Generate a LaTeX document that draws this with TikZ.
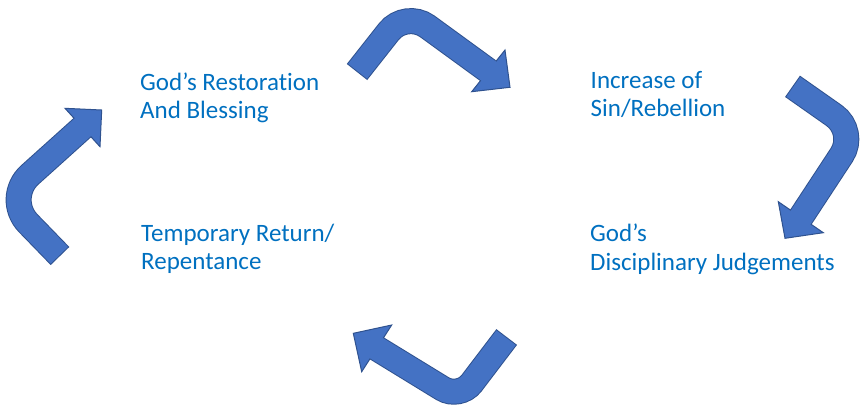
\documentclass[tikz,border=0pt]{standalone}
\usepackage{fontspec}
\setmainfont{Carlito}[Ligatures={NoCommon}]
\usetikzlibrary{calc}
\definecolor{arrowfill}{HTML}{4472C4}
\definecolor{arrowline}{HTML}{2F528F}
\definecolor{labelblue}{HTML}{0070C0}
\tikzset{
  lbl/.style={anchor=base west, inner sep=0pt, text=labelblue, font=\fontsize{25}{28.5}\selectfont},
  shaftout/.style={draw=arrowline, line width=26pt},
  shaftin/.style={draw=arrowfill, line width=24pt},
  headbox/.style={fill=arrowfill, draw=arrowline, line width=1pt, line join=miter},
}
\newcommand{\bentarrow}[7]{%
  % #1 tail, #2 corner, #3 base centre, #4 tip, #5 flap1, #6 flap2, #7 radius
  \draw[shaftout, rounded corners=#7] (#1) -- (#2) -- (#3);
  \filldraw[headbox] (#5) -- (#4) -- (#6) -- cycle;
  \draw[shaftin, rounded corners=#7] ($(#1)!1pt!(#2)$) -- (#2) -- ($(#3)!-2.5pt!(#2)$);
}
\begin{document}
\begin{tikzpicture}[x=1pt,y=-1pt]
\useasboundingbox (0,0) rectangle (865,408);
% arrow 1 (top)
\coordinate (a1t) at (357,72);
\coordinate (a1c) at (405.5,10.5);
\coordinate (a1b) at (488.3,70.8);
\coordinate (a1p) at (510,87.3);
\coordinate (a1f) at (505,50);
\coordinate (a1g) at (471.7,91.7);
\bentarrow{a1t}{a1c}{a1b}{a1p}{a1f}{a1g}{27pt}
% arrow 2 (right)
\coordinate (a2t) at (792.5,86.3);
\coordinate (a2c) at (857,131.6);
\coordinate (a2b) at (800.8,217.2);
\coordinate (a2p) at (785,238.3);
\coordinate (a2f) at (778.3,201.7);
\coordinate (a2g) at (823.3,232.7);
\bentarrow{a2t}{a2c}{a2b}{a2p}{a2f}{a2g}{28pt}
% arrow 3 (bottom)
\coordinate (a3t) at (506.7,337);
\coordinate (a3c) at (459.5,399);
\coordinate (a3b) at (376.7,348.3);
\coordinate (a3p) at (353.3,333.3);
\coordinate (a3f) at (391.7,325);
\coordinate (a3g) at (361.7,371.7);
\bentarrow{a3t}{a3c}{a3b}{a3p}{a3f}{a3g}{20pt}
% arrow 4 (left)
\coordinate (a4t) at (60,256);
\coordinate (a4c) at (3.9,198.2);
\coordinate (a4b) at (82.5,127.5);
\coordinate (a4p) at (101.7,110);
\coordinate (a4f) at (65,108.3);
\coordinate (a4g) at (100,146.7);
\bentarrow{a4t}{a4c}{a4b}{a4p}{a4f}{a4g}{35pt}
% labels
\node[lbl] (l1a) at (140,90) {God’s Restorat\kern0pt ion};
\node[lbl] (l1b) at (140,118) {And Blessing};
\node[lbl] (l2a) at (590.5,88.5) {Increase of};
\node[lbl] (l2b) at (590.5,116.8) {Sin/Rebellion};
\node[lbl] (l3a) at (590,241.7) {God’s};
\node[lbl] (l3b) at (590,270) {Disciplinary Judgements};
\node[lbl] (l4a) at (141,241) {Temporary Return/};
\node[lbl] (l4b) at (141,269) {Repentance};
\end{tikzpicture}
\end{document}
